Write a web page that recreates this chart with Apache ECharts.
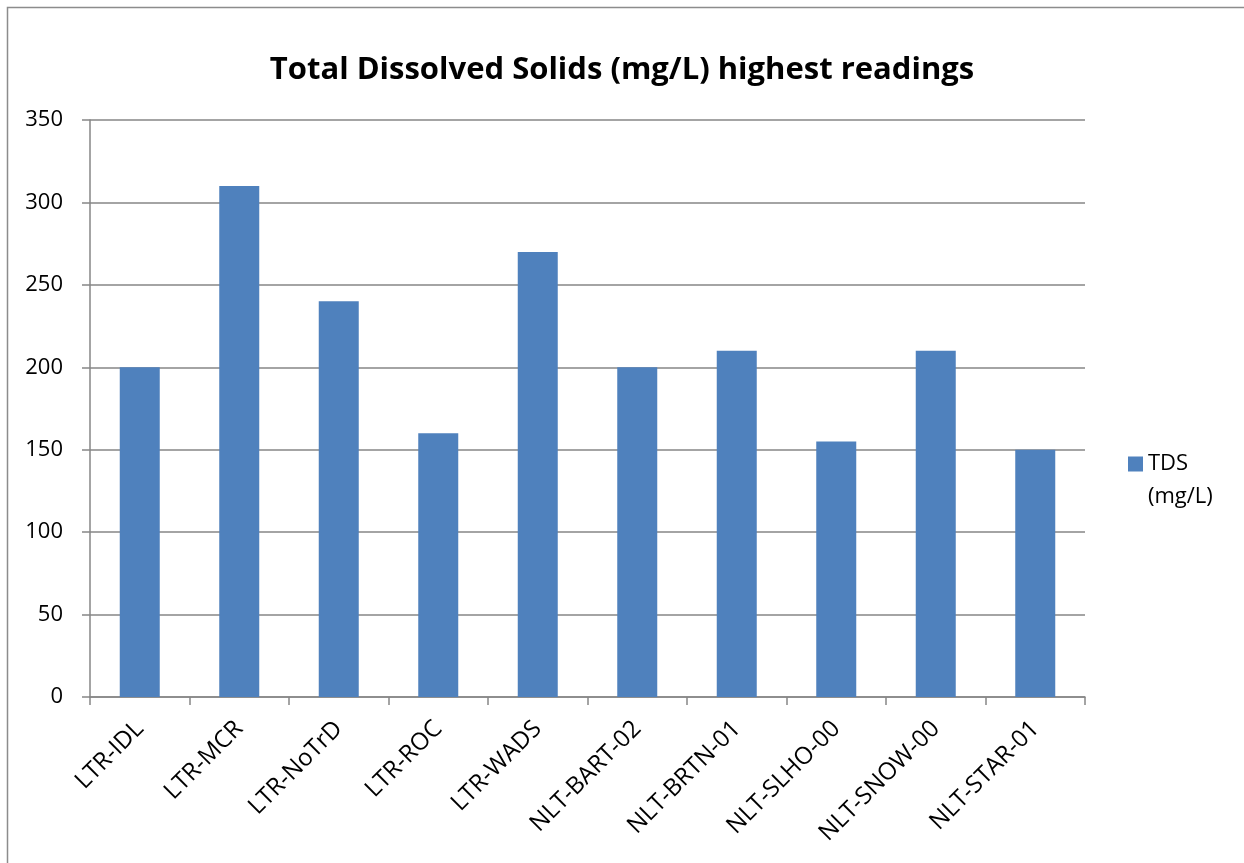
<!DOCTYPE html>
<html>
<head>
<meta charset="utf-8">
<script src="https://cdn.jsdelivr.net/npm/echarts@6/dist/echarts.min.js"></script>
<style>
html,body{margin:0;padding:0;background:#fff;}
#main{width:1244px;height:863px;}
</style>
</head>
<body>
<div id="main"></div>
<script>
const categories = ['LTR-IDL','LTR-MCR','LTR-NoTrD','LTR-ROC','LTR-WADS','NLT-BART-02','NLT-BRTN-01','NLT-SLHO-00','NLT-SNOW-00','NLT-STAR-01'];
const tdsValues = [200, 310, 240, 160, 270, 200, 210, 155, 210, 150];
const seriesName = 'TDS (mg/L)';
const legendLines = ['TDS', '(mg/L)'];
const titleText = 'Total Dissolved Solids (mg/L) highest readings';
const yMin = 0, yMax = 350, yStep = 50;

const FONT = "'Open Sans', sans-serif";
const chart = echarts.init(document.getElementById('main'));
chart.setOption({
  animation: false,
  backgroundColor: '#fff',
  textStyle: { fontFamily: FONT },
  graphic: [{
    type: 'rect', silent: true, z: -1,
    shape: { x: 7.5, y: 7.5, width: 1300, height: 900 },
    style: { fill: 'none', stroke: '#8c8c8c', lineWidth: 1.5 }
  }],
  title: {
    text: titleText,
    left: 617, top: 50, textAlign: 'center',
    textStyle: { fontFamily: FONT, fontWeight: 'bold', fontSize: 31, color: '#000' }
  },
  legend: {
    left: 1123, top: 415,
    orient: 'vertical',
    itemWidth: 15, itemHeight: 15,
    icon: 'rect',
    formatter: () => '{s| }\n{a|' + legendLines[0] + '}\n{a|' + legendLines[1] + '}',
    textStyle: {
      fontFamily: FONT, fontSize: 22, color: '#000',
      rich: {
        s: { lineHeight: 33, fontSize: 22 },
        a: { lineHeight: 33, fontSize: 22, fontFamily: FONT, color: '#000' }
      }
    },
    data: [seriesName]
  },
  grid: { left: 90, right: 159, top: 120, bottom: 166, containLabel: false },
  xAxis: {
    type: 'category',
    data: categories,
    boundaryGap: true,
    axisLine: { lineStyle: { color: '#868686', width: 1.5 } },
    axisTick: { show: true, length: 8, alignWithLabel: false, lineStyle: { color: '#868686', width: 1.5 } },
    axisLabel: { rotate: 45, margin: 28, interval: 0, fontFamily: FONT, fontSize: 24, color: '#000' }
  },
  yAxis: {
    type: 'value',
    min: yMin, max: yMax, interval: yStep,
    axisLine: { show: true, lineStyle: { color: '#868686', width: 1.5 } },
    axisTick: { show: true, length: 8, lineStyle: { color: '#868686', width: 1.5 } },
    splitLine: { show: true, lineStyle: { color: '#868686', width: 1.5 } },
    axisLabel: { margin: 27, fontFamily: FONT, fontSize: 22, color: '#000' }
  },
  series: [{
    name: seriesName,
    type: 'bar',
    data: tdsValues,
    barWidth: 40,
    itemStyle: { color: '#4F81BD' }
  }]
});
</script>
</body>
</html>
